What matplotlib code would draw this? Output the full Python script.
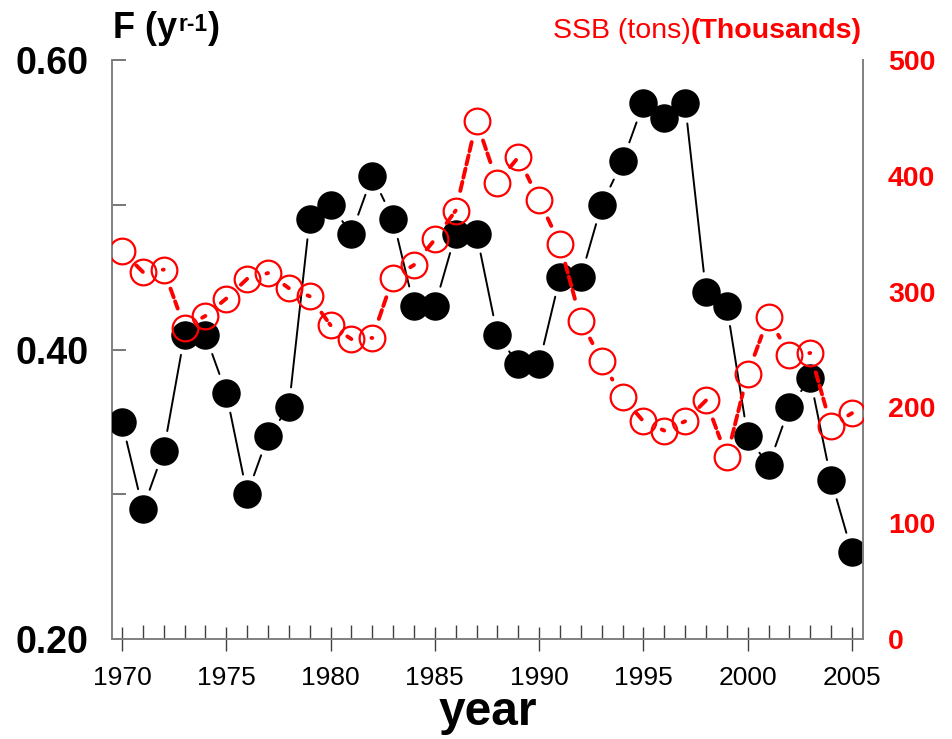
import matplotlib
matplotlib.use('Agg')
import matplotlib.pyplot as plt

# fishing mortality and spawning stock biomass by year
years = list(range(1970, 2006))
f_values = [0.35, 0.29, 0.33, 0.41, 0.41, 0.37, 0.30, 0.34, 0.36, 0.49,
            0.50, 0.48, 0.52, 0.49, 0.43, 0.43, 0.48, 0.48, 0.41, 0.39,
            0.39, 0.45, 0.45, 0.50, 0.53, 0.57, 0.56, 0.57, 0.44, 0.43,
            0.34, 0.32, 0.36, 0.38, 0.31, 0.26]
ssb_values = [335, 317, 319, 269, 279, 294, 311, 316, 303, 296,
              271, 259, 260, 312, 323, 345, 370, 447, 394, 416,
              379, 341, 275, 240, 209, 188, 180, 188, 206, 157,
              229, 278, 245, 247, 184, 195]

f_ticks = [0.20, 0.40, 0.60]
f_minor = [0.30, 0.50]
ssb_ticks = [0, 100, 200, 300, 400, 500]
year_ticks = [1970, 1975, 1980, 1985, 1990, 1995, 2000, 2005]

plt.rcParams['font.family'] = ['Liberation Sans', 'DejaVu Sans']

fig = plt.figure(figsize=(9.52, 7.39), dpi=100)
ax = fig.add_axes([0.1176, 0.1353, 0.7889, 0.7835])
ax2 = ax.twinx()

spine_col = '#808080'
for a in (ax, ax2):
    a.spines['top'].set_visible(False)
    for s in a.spines.values():
        s.set_color(spine_col)
        s.set_linewidth(1.4)
ax.spines['right'].set_visible(False)
ax2.spines['left'].set_visible(False)
ax2.spines['bottom'].set_visible(False)

# F series: thin black line with gaps round the markers
for i in range(len(years) - 1):
    ax.annotate('', xy=(years[i + 1], f_values[i + 1]), xytext=(years[i], f_values[i]),
                arrowprops=dict(arrowstyle='-', color='black', lw=1.4,
                                shrinkA=14.5, shrinkB=14.5))
ax.plot(years, f_values, 'o', color='black', ms=19.5, zorder=4)

# SSB series: red dashes, hollow circles
for i in range(len(years) - 1):
    ax2.annotate('', xy=(years[i + 1], ssb_values[i + 1]), xytext=(years[i], ssb_values[i]),
                 arrowprops=dict(arrowstyle='-', color='red', lw=2.8, ls=(0, (2.4, 1.1)),
                                 shrinkA=14.5, shrinkB=14.5))
ax2.plot(years, ssb_values, 'o', mfc='none', mec='red', mew=1.6, ms=18.5, zorder=4)

ax.set_xlim(1969.52, 2005.53)
ax.set_ylim(0.20, 0.60)
ax2.set_ylim(0, 500)

ax.set_xticks(year_ticks, [str(y) for y in year_ticks], fontsize=19)
ax.set_xticks(years, minor=True)
ax.tick_params(axis='x', which='major', direction='inout', length=17, width=1,
               color='#404040', pad=11, top=False)
ax.tick_params(axis='x', which='minor', direction='in', length=10, width=1,
               color='#404040', top=False)

ax.set_yticks(f_ticks, ['%.2f' % v for v in f_ticks], fontsize=27, fontweight='bold')
ax.set_yticks(f_minor, minor=True)
ax.tick_params(axis='y', which='both', direction='in', length=10, width=1.2,
               color='#606060', pad=17, right=False)

ax2.set_yticks(ssb_ticks, [str(v) for v in ssb_ticks], fontsize=20.5,
               fontweight='bold', color='red')
ax2.tick_params(axis='y', length=0, pad=18)

ax.set_xlabel('year', fontsize=34.5, fontweight='bold', labelpad=0)

# left title with superscript, built from chained texts
t_f = fig.text(0.1187, 0.9486, 'F (y', fontsize=26, fontweight='bold',
               ha='left', va='baseline')
t_sup = ax.annotate('r-1', xy=(1.02, 0.93), xycoords=t_f, fontsize=16.5, fontweight='bold',
                    ha='left', va='top', annotation_clip=False)
ax.annotate(')', xy=(1, 0), xycoords=(t_sup, t_f), fontsize=26, fontweight='bold',
            ha='left', va='bottom', annotation_clip=False)

t_bold = fig.text(0.9055, 0.9486, '(Thousands)', fontsize=20.5, fontweight='bold',
                  color='red', ha='right', va='baseline')
ax.annotate('SSB (tons)', xy=(0, 0), xycoords=t_bold, fontsize=20.5, color='red',
            ha='right', va='bottom', annotation_clip=False)

fig.savefig('out.png', dpi=100)
